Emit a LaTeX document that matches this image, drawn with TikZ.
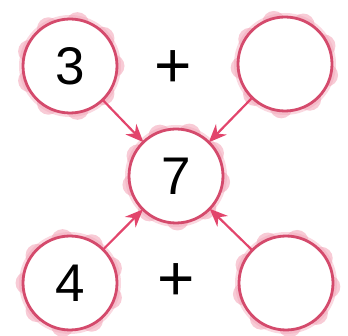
\documentclass[tikz,border=0pt]{standalone}
\usepackage{fontspec}
\setmainfont{Liberation Sans}
\usetikzlibrary{arrows.meta}
\definecolor{ring}{HTML}{D44A6C}
\definecolor{petal}{HTML}{F3A9BA}
\definecolor{arrowc}{HTML}{E2456C}
\begin{document}
\begin{tikzpicture}[x=1pt,y=-1pt,
  circ/.style={circle, draw=ring, line width=2.8pt, fill=white, minimum size=94pt, inner sep=0pt, outer sep=0pt, font=\fontsize{53}{53}\selectfont},
  arr/.style={draw=arrowc, line width=2.2pt, -{Stealth[length=18pt,width=15pt]}},
  plusnode/.style={font=\fontsize{64}{64}\selectfont, inner sep=0pt}]
\useasboundingbox (0,0) rectangle (348,336);
\foreach \x/\y/\r in {70/66/0, 285/64/15, 176/176/8, 70/283/20, 286/283/5}{
  \fill[petal!45] (\x,\y) circle (51);
  \foreach \a in {0,40,...,320}{ \fill[petal, opacity=0.6] (\x,\y) ++(\a+\r:43) circle (11.5); }
}
\node[circ] (tl) at (70,66) {3};
\node[circ] (tr) at (285,64) {};
\node[circ] (c) at (176,176) {7};
\node[circ] (bl) at (70,283) {4};
\node[circ] (br) at (286,283) {};
\node[plusnode] (p1) at (173,69) {+};
\node[plusnode] (p2) at (176,282) {+};
\draw[arr] (tl) -- (c);
\draw[arr] (tr) -- (c);
\draw[arr] (bl) -- (c);
\draw[arr] (br) -- (c);
\end{tikzpicture}
\end{document}
